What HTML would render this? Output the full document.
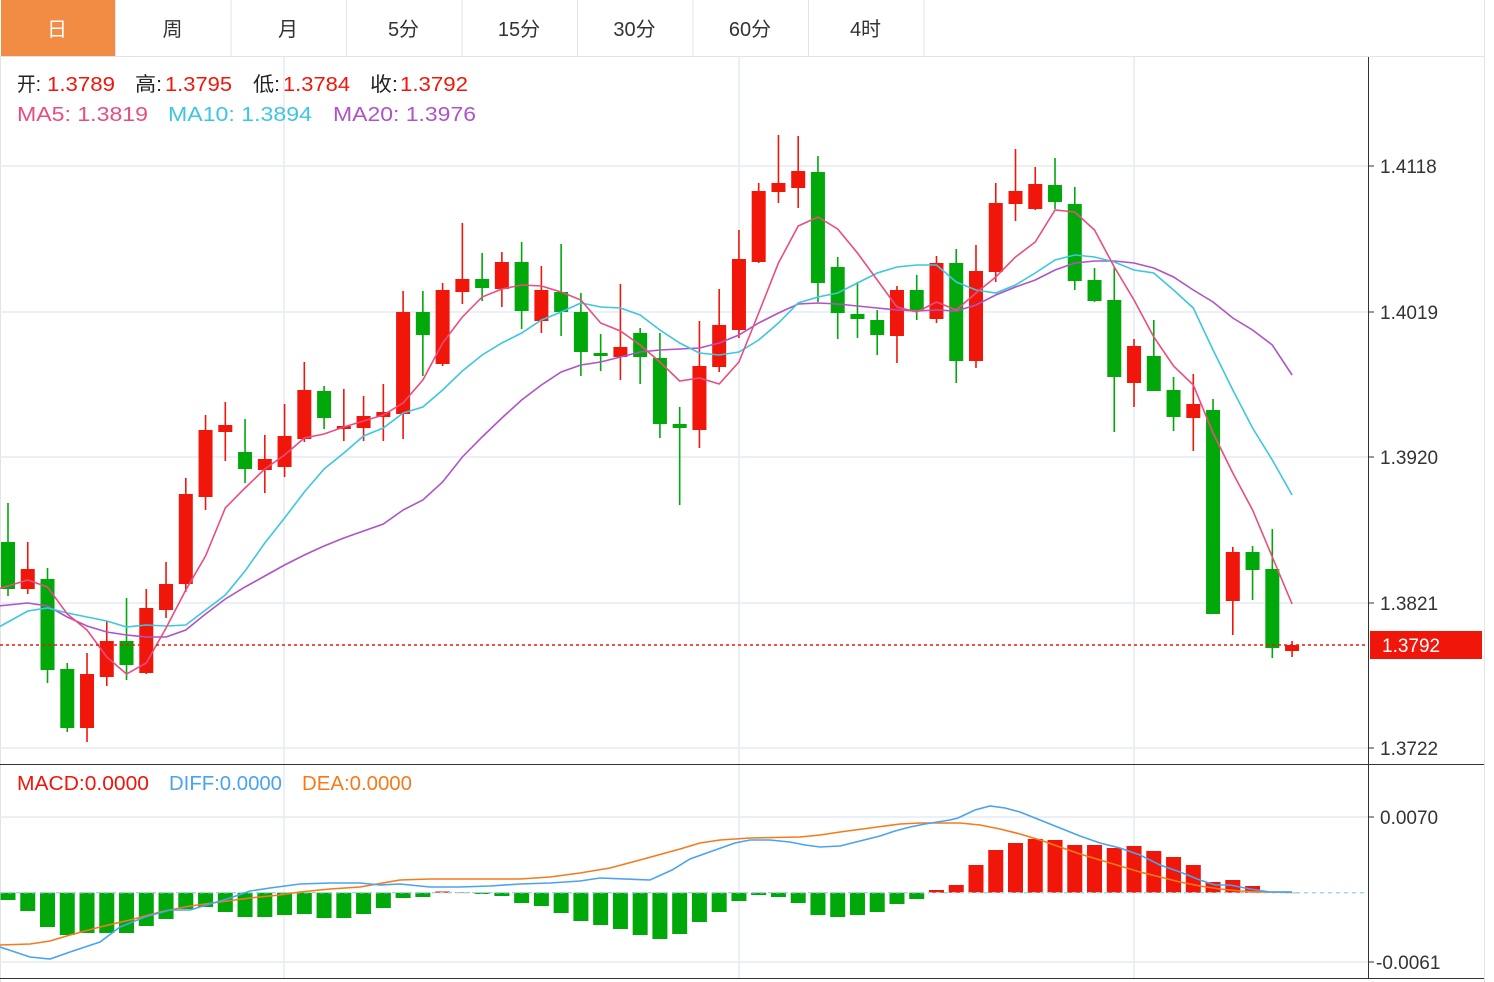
<!DOCTYPE html>
<html><head><meta charset="utf-8"><style>
body{margin:0;width:1494px;height:982px;overflow:hidden;background:#fff;font-family:"Liberation Sans","Noto Sans CJK SC",sans-serif}
svg{position:absolute;left:0;top:0}
</style></head><body>
<svg id="s" width="1494" height="982" xmlns="http://www.w3.org/2000/svg" font-family="Liberation Sans, Noto Sans CJK SC, sans-serif"></svg>
<script>
var s=document.getElementById('s'),h='';
var tabs=['日','周','月','5分','15分','30分','60分','4时'];
h+='<rect x="0" y="0" width="1484" height="56" fill="#fff"/>';
for(var i=0;i<8;i++){var x=i*115.5;
 if(i==0)h+='<rect x="1" y="0" width="114" height="56" fill="#f28c45"/>';
 h+='<line x1="'+(x+115.5)+'" y1="0" x2="'+(x+115.5)+'" y2="56" stroke="#e3e3e3"/>';
 h+='<text x="'+(x+57)+'" y="36" font-size="20" text-anchor="middle" fill="'+(i==0?'#fff':'#333')+'">'+tabs[i]+'</text>';}
h+='<line x1="0" y1="56.5" x2="1484" y2="56.5" stroke="#e3e3e3"/>';
h+='<line x1="1484.5" y1="0" x2="1484.5" y2="982" stroke="#e3e3e3"/>';
h+='<line x1="0.5" y1="56" x2="0.5" y2="982" stroke="#e3e3e3"/>';
var g='#e4ecf3';
[166,312,457,603,748,817,962].forEach(function(y){h+='<line x1="0" y1="'+y+'" x2="1368" y2="'+y+'" stroke="'+g+'" stroke-width="1.5"/>';});
[284,739,1134].forEach(function(x){h+='<line x1="'+x+'" y1="57" x2="'+x+'" y2="978" stroke="'+g+'" stroke-width="1.5"/>';});
h+='<line x1="1368.5" y1="57" x2="1368.5" y2="978" stroke="#333"/>';
h+='<line x1="0" y1="764.5" x2="1484" y2="764.5" stroke="#333"/>';
h+='<line x1="0" y1="978.5" x2="1484" y2="978.5" stroke="#333"/>';
[[166,'1.4118'],[312,'1.4019'],[457,'1.3920'],[603,'1.3821'],[748,'1.3722'],[817,'0.0070'],[962,'-0.0061']].forEach(function(a){
 h+='<line x1="1368" y1="'+a[0]+'" x2="1374" y2="'+a[0]+'" stroke="#333"/>';
 h+='<text x="'+(a[1][0]=='-'?1376:1380)+'" y="'+(a[0]+7)+'" font-size="19" fill="#333">'+a[1]+'</text>';});
var R='#f0160a',G='#00a80a';
var c=[['g',542,589,503,596],['r',569,589,542,594],['g',579,670,568,683],['g',669,728,663,732],['r',674,728,653,742],['r',641,677,621,686],['g',641,665,598,680],['r',608,673,589,674],['r',584,610,562,618],['r',494,584,478,592],['r',430,497,415,510],['r',425,432,402,461],['g',452,469,419,483],['r',459,470,435,493],['r',436,467,404,477],['r',390,439,362,442],['g',391,418,386,429],['r',426,429,389,441],['r',416,428,396,441],['r',412,417,384,441],['r',312,414,291,439],['g',312,335,291,376],['r',290,364,283,366],['r',279,292,223,304],['g',279,288,253,301],['r',262,289,252,307],['g',262,311,242,329],['r',290,321,266,333],['g',292,312,244,336],['g',312,352,293,376],['g',353,356,334,371],['r',347,357,284,380],['g',333,357,328,384],['g',358,424,333,438],['g',424,428,407,505],['r',366,430,321,448],['r',325,367,289,372],['r',259,330,230,338],['r',191,262,183,263],['r',183,192,135,203],['r',171,188,136,208],['g',172,283,156,302],['g',267,313,257,339],['g',314,319,282,338],['g',320,335,310,355],['r',290,336,286,363],['g',290,310,275,320],['r',263,319,256,323],['g',263,361,249,383],['r',271,361,245,368],['r',203,272,183,282],['r',191,204,149,221],['r',184,209,167,210],['g',185,202,158,209],['g',204,281,187,290],['g',280,301,268,302],['g',300,377,267,432],['r',346,383,339,407],['g',356,391,320,391],['g',390,417,377,431],['r',404,418,374,451],['g',410,614,399,614],['r',552,601,547,635],['g',552,570,546,600],['g',569,648,529,658],['r',645,651,641,657]];
function X(i){return 8+19.755*i;}
var mac=[900,911,927,935,933,933,933,926,919,909,907,912,917,917,915,914,918,918,914,908,898,897,891.5,892.5,894,896,903,906,913,921,925,929,935,939,934,922,912,901,895,897,903,915,917,915,912,904,899,890,885,865,850,843,839,840,845,845,848,846,851,857,865,882,880,886,891.5,892.7];
c.forEach(function(d,i){var x=X(i),col=d[0]=='r'?R:G;
 h+='<line x1="'+x+'" y1="'+d[3]+'" x2="'+x+'" y2="'+d[4]+'" stroke="'+col+'" stroke-width="1.6"/>';
 h+='<rect x="'+(x-7)+'" y="'+d[1]+'" width="14" height="'+Math.max(2,d[2]-d[1])+'" fill="'+col+'"/>';
 var z=892.7,m=mac[i];
 h+='<rect x="'+(x-7.5)+'" y="'+Math.min(z,m)+'" width="15" height="'+Math.max(0.5,Math.abs(m-z))+'" fill="'+(m<z?R:G)+'"/>';});
function pl(pts,col,w){return '<polyline fill="none" stroke="'+col+'" stroke-width="'+(w||1.6)+'" points="'+pts.map(function(p){return p.join(',')}).join(' ')+'"/>';}
function ser(a){var r=a.map(function(y,i){return [X(i),y];});r.unshift([0,a[0]+(a[0]-a[1])*0.4]);return r;}
var ma5=[586,580,587,614,630,657,674,663,628,590,556,508,488,469,455,438,434,427,421,415,403,380,343,317,297,289,285,286,292,300,323,331,345,362,381,378,384,362,313,263,226,217,229,253,280,307,312,302,310,293,277,257,242,210,212,230,267,300,337,366,385,433,473,510,557,604];
var ma10=[622,611,608,613,617,621,627,625,626,625,610,595,571,543,518,492,469,453,436,428,413,407,390,371,355,343,333,320,312,303,307,308,315,330,343,353,355,352,340,323,303,297,293,283,273,267,265,265,282,290,293,285,273,260,255,257,262,270,273,290,308,350,390,428,460,495];
var ma20=[605,603,606,617,626,632,635,637,637,630,614,599,587,576,565,555,546,538,531,524,510,500,482,457,437,418,400,385,372,365,362,357,352,350,349,348,343,335,323,313,304,303,304,306,308,310,311,310,311,305,295,287,280,270,263,261,261,263,268,277,290,302,318,330,345,375];
h+=pl(ser(ma20),'#b052c8')+pl(ser(ma10),'#3ec6e0')+pl(ser(ma5),'#ea4c80');
h+='<line x1="0" y1="645" x2="1368" y2="645" stroke="#f0160a" stroke-width="1.5" stroke-dasharray="3,3"/>';
h+='<rect x="1370" y="631" width="112" height="28" fill="#f0160a"/><text x="1382" y="652" font-size="19" fill="#fff">1.3792</text>';
h+='<line x1="0" y1="892.7" x2="1368" y2="892.7" stroke="#9fd3e8" stroke-width="1.3" stroke-dasharray="4,4"/>';
var diff=[[0,947],[30,957],[50,959],[70,952],[100,942],[120,927],[145,917],[170,910],[190,910],[210,904],[230,898],[250,891],[270,888],[300,884],[330,883],[360,883],[380,885],[400,884],[430,887],[460,887],[490,886],[520,884],[550,883],[580,881],[600,878],[650,880],[672,870],[690,859],[718,849],[735,843],[750,840],[770,840],[790,842],[805,845],[820,847],[840,846],[860,841],[880,836],[895,831],[910,827],[925,824],[950,820],[958,818],[975,810],[990,806],[1005,808],[1020,812],[1040,820],[1060,828],[1080,836],[1100,843],[1120,848],[1140,855],[1160,865],[1180,872],[1200,880],[1215,885],[1230,885],[1250,889],[1270,892],[1292,892]];
var dea=[[0,945],[30,944],[50,941],[70,935],[100,927],[130,920],[160,912],[190,906],[220,902],[250,898],[280,895],[300,892],[330,889],[360,887],[400,880],[430,879],[520,879],[550,877],[580,873],[610,868],[640,860],[680,849],[700,843],[720,840],[750,838],[800,837],[820,835],[840,832],[870,828],[900,824],[920,823],[960,823],[980,825],[1000,829],[1020,834],[1040,840],[1060,847],[1080,854],[1100,860],[1120,866],[1140,872],[1160,877],[1180,882],[1200,886],[1220,889],[1240,891],[1260,892],[1292,892]];
h+=pl(dea,'#f57a1a')+pl(diff,'#4aa3f0');
function T(x,y,w,col,t){return '<text x="'+x+'" y="'+y+'" font-size="20" fill="'+col+'" textLength="'+w+'" lengthAdjust="spacingAndGlyphs">'+t+'</text>';}
var K='#222';
h+=T(17,91,24,K,'开:')+T(47,91,68,R,'1.3789');
h+=T(135,91,27,K,'高:')+T(165,91,67,R,'1.3795');
h+=T(253,91,27,K,'低:')+T(283,91,67,R,'1.3784');
h+=T(370,91,28,K,'收:')+T(400,91,68,R,'1.3792');
h+=T(17,121,131,'#ea4c80','MA5:&#160;1.3819')+T(168,121,144,'#3ec6e0','MA10:&#160;1.3894')+T(333,121,143,'#b052c8','MA20:&#160;1.3976');
h+=T(17,790,132,R,'MACD:0.0000')+T(169,790,113,'#4aa3f0','DIFF:0.0000')+T(302,790,110,'#f57a1a','DEA:0.0000');
s.innerHTML=h;
</script>
</body></html>
